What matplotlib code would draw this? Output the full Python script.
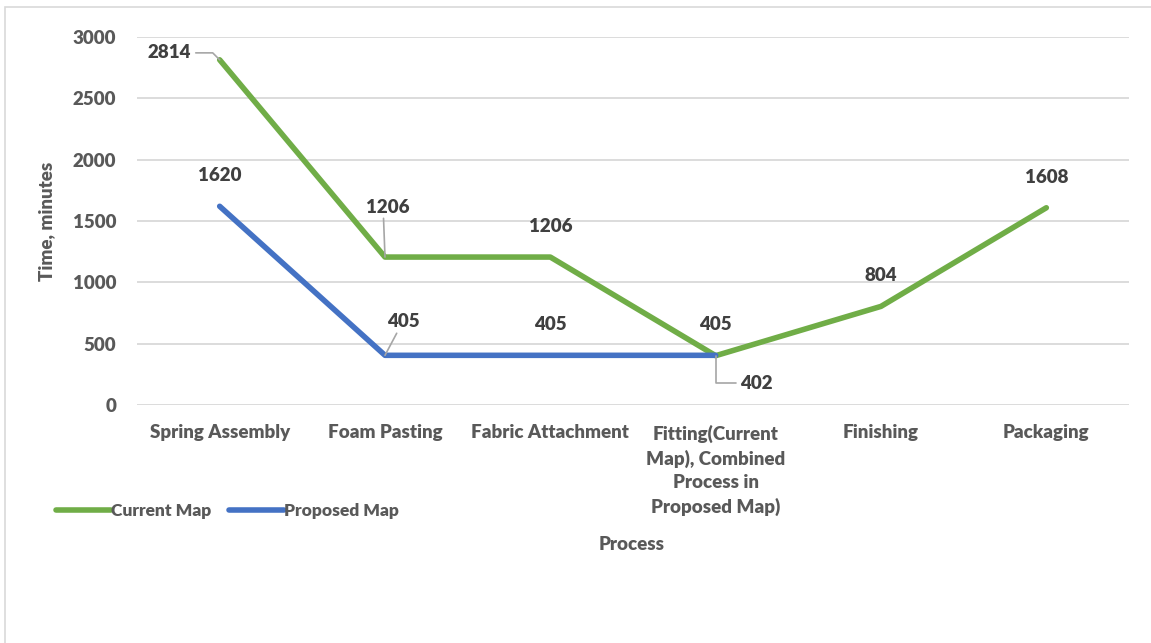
import matplotlib
matplotlib.use("Agg")
import matplotlib.pyplot as plt
from matplotlib.patches import Rectangle

categories = ["Spring Assembly", "Foam Pasting", "Fabric Attachment",
              "Fitting(Current\nMap), Combined\nProcess in\nProposed Map)",
              "Finishing", "Packaging"]
current_map = [2814, 1206, 1206, 402, 804, 1608]
proposed_map = [1620, 405, 405, 405]
y_ticks = [0, 500, 1000, 1500, 2000, 2500, 3000]

GREEN = "#70ad47"
BLUE = "#4472c4"
GRID = "#d9d9d9"
TICK = "#595959"
LABEL = "#404040"
FONT = "Lato"
WEIGHT = "heavy"
FS = 13.5

plt.rcParams["font.family"] = FONT
plt.rcParams["font.weight"] = WEIGHT

W, H = 1151, 643
fig = plt.figure(figsize=(W / 100, H / 100), dpi=100)
fig.patches.append(Rectangle((5 / W, -0.1), 1.2, 1.1 - 7 / H, transform=fig.transFigure,
                             fill=False, edgecolor=GRID, linewidth=1.2, zorder=0))

ax = fig.add_axes([137 / W, 1 - 405 / H, (1129 - 137) / W, (405 - 37) / H])
x_cur = list(range(len(current_map)))
x_prop = list(range(len(proposed_map)))
ax.plot(x_cur, current_map, color=GREEN, lw=4, solid_capstyle="round",
        solid_joinstyle="round", label="Current Map", zorder=3)
ax.plot(x_prop, proposed_map, color=BLUE, lw=4, solid_capstyle="round",
        solid_joinstyle="round", label="Proposed Map", zorder=3)

ax.set_xlim(-0.5, len(categories) - 0.5)
ax.set_ylim(0, 3000)
ax.set_yticks(y_ticks)
ax.set_xticks(x_cur)
ax.set_xticklabels(categories, linespacing=1.45)
ax.tick_params(axis="both", length=0, colors=TICK, labelsize=FS)
ax.tick_params(axis="x", pad=14)
ax.tick_params(axis="y", pad=15)
for t in ax.get_xticklabels() + ax.get_yticklabels():
    t.set_family(FONT)
    t.set_weight(WEIGHT)
    t.set_color(TICK)
ax.grid(axis="y", color=GRID, lw=1.3)
for s in ax.spines.values():
    s.set_visible(False)
ax.set_axisbelow(True)

ax.set_ylabel("Time, minutes", fontsize=FS, family=FONT, weight=WEIGHT, color=TICK)
ax.yaxis.set_label_coords(-0.083, 0.5)
fig.text(632 / W, 1 - 545 / H, "Process", fontsize=FS, family=FONT, weight=WEIGHT,
         color=TICK, ha="center", va="center")

lbl = dict(fontsize=FS, family=FONT, weight=WEIGHT, color=LABEL, ha="center", va="center")
leader = dict(arrowstyle="-", color="#a6a6a6", lw=1.2, shrinkA=0, shrinkB=0)

# Current Map labels
ax.annotate(str(current_map[0]), (0, current_map[0]), xytext=(-36, 5),
            textcoords="offset points", **lbl,
            arrowprops=dict(leader, connectionstyle="angle,angleA=0,angleB=135,rad=0",
                            relpos=(1.1, 0.5)))
ax.annotate(str(current_map[1]), (1, current_map[1]), xytext=(2, 36),
            textcoords="offset points", **lbl,
            arrowprops=dict(leader, relpos=(0.4, 0.0)))
ax.annotate(str(current_map[2]), (2, current_map[2]), xytext=(0, 22),
            textcoords="offset points", **lbl)
ax.annotate(str(current_map[3]), (3, current_map[3]), xytext=(29, -20),
            textcoords="offset points", **lbl,
            arrowprops=dict(leader, connectionstyle="angle,angleA=0,angleB=90,rad=0",
                            relpos=(-0.12, 0.5)))
ax.annotate(str(current_map[4]), (4, current_map[4]), xytext=(0, 22),
            textcoords="offset points", **lbl)
ax.annotate(str(current_map[5]), (5, current_map[5]), xytext=(0, 22),
            textcoords="offset points", **lbl)

# Proposed Map labels
ax.annotate(str(proposed_map[0]), (0, proposed_map[0]), xytext=(0, 22),
            textcoords="offset points", **lbl)
ax.annotate(str(proposed_map[1]), (1, proposed_map[1]), xytext=(13, 24),
            textcoords="offset points", **lbl,
            arrowprops=dict(leader, relpos=(0.35, 0.0)))
ax.annotate(str(proposed_map[2]), (2, proposed_map[2]), xytext=(0, 22),
            textcoords="offset points", **lbl)
ax.annotate(str(proposed_map[3]), (3, proposed_map[3]), xytext=(0, 22),
            textcoords="offset points", **lbl)

leg = fig.legend(loc="center left", bbox_to_anchor=(40 / W, 1 - 511 / H), ncol=2,
                 frameon=False, prop=dict(family=FONT, weight=WEIGHT, size=12.5),
                 handlelength=3.2, handletextpad=0.0, columnspacing=1.0,
                 labelcolor=TICK)

fig.savefig("out.png", dpi=100, facecolor="white")
